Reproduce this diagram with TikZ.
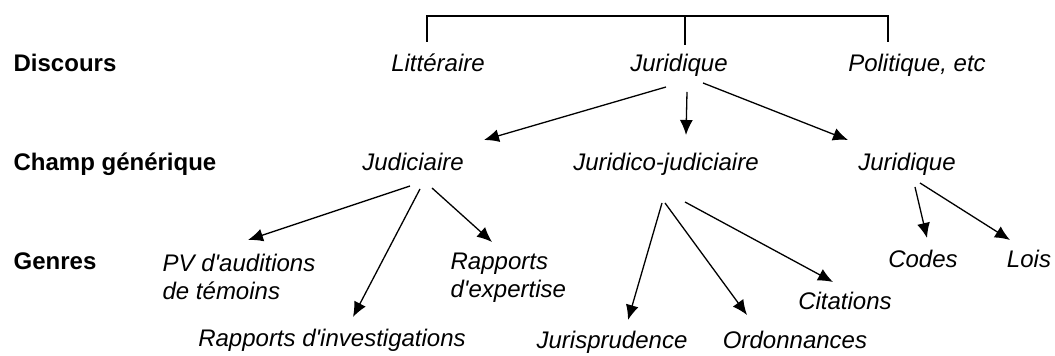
\documentclass[tikz,border=0pt]{standalone}
\usepackage{fontspec}
\setmainfont{Liberation Sans}
\usetikzlibrary{arrows.meta,calc}
\tikzset{
  item/.style={font=\fontsize{12}{14}\selectfont\itshape, inner sep=0pt, anchor=base},
  block/.style={item, anchor=north west, align=left},
  rowlabel/.style={font=\fontsize{12}{14}\selectfont\bfseries, inner sep=0pt, anchor=base west},
  arr/.style={-{Latex[length=7.5pt,width=6.5pt]}},
}
\begin{document}
\begin{tikzpicture}[x=0.5pt, y=-0.5pt, line width=0.65pt]
    \useasboundingbox (0,0) rectangle (1055,356);

    % Row labels
    \node[rowlabel] at (13, 72) (discours) {Discours};
    \node[rowlabel] at (13, 171) (champ) {Champ générique};
    \node[rowlabel] at (13, 270) (genres) {Genres};

    % Nodes
    \node[item] at (438, 72) (lit) {Littéraire};
    \node[item] at (679, 72) (jurtop) {Juridique};
    \node[item] at (917, 72) (pol) {Politique, etc};

    \node[item] at (413, 171) (judic) {Judiciaire};
    \node[item] at (666, 171) (jurjud) {Juridico-judiciaire};
    \node[item] at (907, 171) (jurright) {Juridique};

    \node[block] at (162, 253) (pv) {PV d\textquotesingle auditions\\de témoins};
    \node[block] at (450, 252) (rexp) {Rapports\\d\textquotesingle expertise};
    \node[item] at (332, 347) (rinv) {Rapports d\textquotesingle investigations};
    \node[item] at (612, 349) (juris) {Jurisprudence};
    \node[item] at (795, 349) (ordo) {Ordonnances};
    \node[item] at (845, 310) (cita) {Citations};
    \node[item] at (923, 268) (codes) {Codes};
    \node[item] at (1029, 268) (lois) {Lois};

    % Bracket
    \coordinate (topbar) at (685, 16);
    \draw ($(lit.base)+(-11,-30)$) |- (topbar) -| ($(pol.base)+(-29,-30)$);
    \draw (topbar) -- ($(jurtop.base)+(6,-27)$);

    % Arrows
    \draw[arr] ($(jurtop.base)+(-13,15)$) -- ($(judic.base)+(71,-31)$);
    \draw[arr] ($(jurtop.base)+(8,20)$) -- ($(jurjud.base)+(20,-36)$);
    \draw[arr] ($(jurtop.base)+(24,11)$) -- ($(jurright.base)+(-59,-31)$);

    \draw[arr] ($(judic.base)+(-3,15)$) -- ($(pv.north west)+(86,-13)$);
    \draw[arr] ($(judic.base)+(7,18)$) -- ($(rinv.base)+(21,-30)$);
    \draw[arr] ($(judic.base)+(19,17)$) -- ($(rexp.north west)+(42,-10)$);

    \draw[arr] ($(jurjud.base)+(-4,32)$) -- ($(juris.base)+(16,-29)$);
    \draw[arr] ($(jurjud.base)+(-1,32)$) -- ($(ordo.base)+(-48,-34)$);
    \draw[arr] ($(jurjud.base)+(19,31)$) -- ($(cita.base)+(-12,-28)$);

    \draw[arr] ($(jurright.base)+(8,16)$) -- ($(codes.base)+(4,-30)$);
    \draw[arr] ($(jurright.base)+(13,12)$) -- ($(lois.base)+(-19,-28)$);
\end{tikzpicture}
\end{document}
